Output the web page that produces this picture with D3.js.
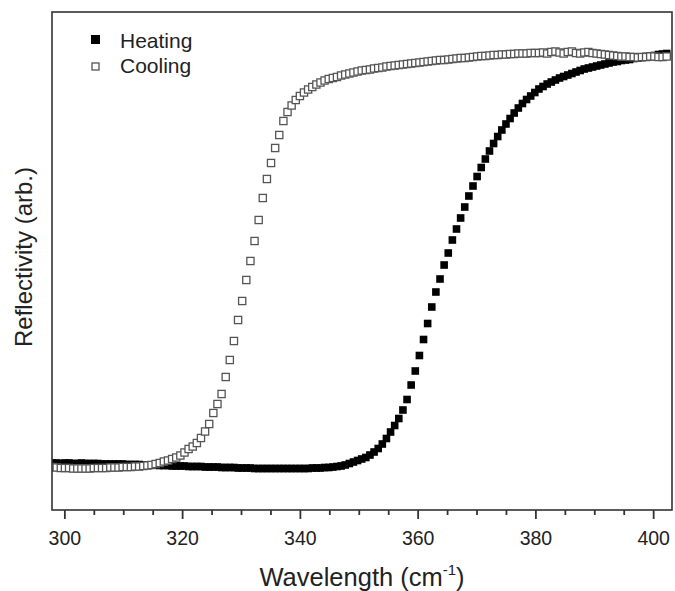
<!DOCTYPE html>
<html>
<head>
<meta charset="utf-8">
<script src="https://cdn.jsdelivr.net/npm/d3@7"></script>
<style>
  html, body { margin: 0; padding: 0; background: #fff; }
  svg { display: block; }
  text { font-family: "Liberation Sans", Arial, sans-serif; fill: #222; }
</style>
</head>
<body>
<svg id="chart" width="675" height="591"></svg>
<script>
// ---- data ----
const wavelength = [
  298.0, 298.7, 299.4, 300.1, 300.8, 301.5, 302.2, 302.9, 303.6, 304.3,
  305.0, 305.7, 306.4, 307.1, 307.8, 308.5, 309.2, 309.9, 310.6, 311.3,
  312.0, 312.7, 313.4, 314.1, 314.8, 315.5, 316.2, 316.9, 317.6, 318.3,
  319.0, 319.7, 320.4, 321.1, 321.8, 322.5, 323.2, 323.9, 324.6, 325.3,
  326.0, 326.7, 327.4, 328.1, 328.8, 329.5, 330.2, 330.9, 331.6, 332.3,
  333.0, 333.7, 334.4, 335.1, 335.8, 336.5, 337.2, 337.9, 338.6, 339.3,
  340.0, 340.7, 341.4, 342.1, 342.8, 343.5, 344.2, 344.9, 345.6, 346.3,
  347.0, 347.7, 348.4, 349.1, 349.8, 350.5, 351.2, 351.9, 352.6, 353.3,
  354.0, 354.7, 355.4, 356.1, 356.8, 357.5, 358.2, 358.9, 359.6, 360.3,
  361.0, 361.7, 362.4, 363.1, 363.8, 364.5, 365.2, 365.9, 366.6, 367.3,
  368.0, 368.7, 369.4, 370.1, 370.8, 371.5, 372.2, 372.9, 373.6, 374.3,
  375.0, 375.7, 376.4, 377.1, 377.8, 378.5, 379.2, 379.9, 380.6, 381.3,
  382.0, 382.7, 383.4, 384.1, 384.8, 385.5, 386.2, 386.9, 387.6, 388.3,
  389.0, 389.7, 390.4, 391.1, 391.8, 392.5, 393.2, 393.9, 394.6, 395.3,
  396.0, 396.7, 397.4, 398.1, 398.8, 399.5, 400.2, 400.9, 401.6, 402.3
];

const heating = [
  11.0, 11.0, 10.9, 11.0, 11.0, 10.9, 10.9, 11.0, 10.9, 10.9,
  10.9, 10.9, 10.8, 10.8, 10.8, 10.8, 10.8, 10.8, 10.7, 10.7,
  10.7, 10.7, 10.6, 10.6, 10.6, 10.6, 10.5, 10.5, 10.5, 10.4,
  10.4, 10.4, 10.4, 10.3, 10.3, 10.3, 10.3, 10.2, 10.2, 10.2,
  10.2, 10.1, 10.1, 10.1, 10.1, 10.0, 10.0, 10.0, 10.0, 9.9,
  9.9, 9.9, 9.9, 9.9, 9.9, 9.9, 9.9, 9.9, 9.9, 9.9,
  9.9, 9.9, 9.9, 10.0, 10.0, 10.0, 10.1, 10.1, 10.2, 10.3,
  10.4, 10.6, 10.9, 11.2, 11.5, 11.8, 12.1, 12.6, 13.2, 13.9,
  14.8, 15.9, 17.2, 18.5, 19.9, 21.6, 23.7, 26.6, 29.4, 32.5,
  35.7, 38.9, 42.2, 45.2, 47.8, 50.6, 53.0, 55.6, 57.8, 60.0,
  62.2, 64.4, 66.4, 68.3, 70.1, 71.8, 73.4, 74.9, 76.3, 77.6,
  78.8, 79.9, 81.0, 82.0, 82.9, 83.7, 84.4, 85.1, 85.8, 86.3,
  86.8, 87.2, 87.6, 88.0, 88.3, 88.6, 88.9, 89.2, 89.5, 89.8,
  90.0, 90.2, 90.4, 90.6, 90.8, 91.0, 91.2, 91.3, 91.5, 91.6,
  91.7, 91.9, 92.0, 92.1, 92.3, 92.4, 92.5, 92.7, 92.8, 92.9
];

const cooling = [
  10.2, 10.1, 10.0, 10.0, 10.0, 9.9, 9.9, 9.9, 9.9, 9.9,
  10.0, 10.0, 10.0, 10.0, 10.1, 10.1, 10.1, 10.2, 10.2, 10.2,
  10.3, 10.3, 10.4, 10.5, 10.6, 10.8, 11.0, 11.3, 11.5, 11.8,
  12.1, 12.5, 13.1, 13.8, 14.3, 15.0, 16.0, 17.3, 18.8, 21.0,
  22.8, 24.8, 28.2, 31.6, 35.4, 39.6, 43.4, 47.6, 51.4, 55.4,
  59.6, 64.0, 67.8, 71.0, 74.0, 76.6, 79.4, 81.2, 82.5, 83.6,
  84.4, 85.1, 85.7, 86.2, 86.7, 87.1, 87.5, 87.8, 88.0, 88.2,
  88.5, 88.7, 88.9, 89.1, 89.3, 89.5, 89.6, 89.7, 89.9, 90.0,
  90.1, 90.3, 90.4, 90.5, 90.6, 90.7, 90.8, 90.9, 91.0, 91.1,
  91.2, 91.3, 91.4, 91.5, 91.6, 91.6, 91.7, 91.8, 91.9, 92.0,
  92.0, 92.1, 92.2, 92.3, 92.4, 92.4, 92.5, 92.6, 92.6, 92.7,
  92.7, 92.8, 92.8, 92.9, 92.9, 92.9, 93.0, 93.0, 93.0, 93.1,
  92.9, 93.2, 93.3, 93.1, 92.9, 93.2, 93.3, 93.0, 92.9, 93.1,
  93.2, 93.0, 92.9, 92.8, 92.7, 92.6, 92.5, 92.4, 92.3, 92.3,
  92.2, 92.2, 92.1, 92.2, 92.2, 92.3, 92.3, 92.2, 92.2, 92.3
];

const majorTicks = [300, 320, 340, 360, 380, 400];
const minorTicks = [305, 310, 315, 325, 330, 335, 345, 350, 355, 365, 370, 375, 385, 390, 395];
const seriesNames = ["Heating", "Cooling"];
const xLabel = "Wavelength (cm";
const xLabelSup = "-1";
const yLabel = "Reflectivity (arb.)";

// ---- layout ----
const margin = { left: 52, top: 12, right: 3, bottom: 81 };
const W = 675, H = 591;
const pw = W - margin.left - margin.right;
const ph = H - margin.top - margin.bottom;

const svg = d3.select("#chart");
const g = svg.append("g").attr("transform", `translate(${margin.left},${margin.top})`);

const x = d3.scaleLinear().domain([297.9, 403.2]).range([0, pw]);
const y = d3.scaleLinear().domain([1.6, 101.2]).range([ph, 0]);

svg.append("defs").append("clipPath").attr("id", "clip")
  .append("rect").attr("x", 0).attr("y", 0).attr("width", pw).attr("height", ph);

const plot = g.append("g").attr("clip-path", "url(#clip)");

const hData = wavelength.map((w, i) => ({ x: w, y: heating[i] }));
const cData = wavelength.map((w, i) => ({ x: w, y: cooling[i] }));

const hs = 7.6;
plot.selectAll("rect.heat").data(hData).join("rect")
  .attr("class", "heat")
  .attr("x", d => x(d.x) - hs / 2)
  .attr("y", d => y(d.y) - hs / 2)
  .attr("width", hs).attr("height", hs)
  .attr("fill", "#000");

const cs = 7.2;
plot.selectAll("rect.cool").data(cData).join("rect")
  .attr("class", "cool")
  .attr("x", d => x(d.x) - cs / 2)
  .attr("y", d => y(d.y) - cs / 2)
  .attr("width", cs).attr("height", cs)
  .attr("fill", "#fff")
  .attr("stroke", "#555")
  .attr("stroke-width", 1.3);

// frame
g.append("rect").attr("x", 0).attr("y", 0).attr("width", pw).attr("height", ph)
  .attr("fill", "none").attr("stroke", "#333").attr("stroke-width", 1.6);

// axes
const xAxis = d3.axisBottom(x).tickValues(majorTicks).tickSize(9).tickPadding(12).tickFormat(d3.format("d"));
const ax = g.append("g").attr("transform", `translate(0,${ph})`).call(xAxis);
ax.select(".domain").remove();
ax.selectAll(".tick line").attr("stroke", "#333").attr("stroke-width", 1.8);
ax.selectAll(".tick text").attr("font-size", 19.5).attr("fill", "#222")
  .style("font-family", '"Liberation Sans", Arial, sans-serif');

const xMinor = d3.axisBottom(x).tickValues(minorTicks).tickSize(5).tickFormat("");
const axm = g.append("g").attr("transform", `translate(0,${ph})`).call(xMinor);
axm.select(".domain").remove();
axm.selectAll(".tick line").attr("stroke", "#333").attr("stroke-width", 1.8);

// axis titles
const xt = svg.append("text")
  .attr("x", 362).attr("y", 586)
  .attr("text-anchor", "middle")
  .attr("font-size", 25.5);
xt.append("tspan").text(xLabel);
xt.append("tspan").attr("font-size", 15).attr("dy", -11).text(xLabelSup);
xt.append("tspan").attr("dy", 11).text(")");

svg.append("text")
  .attr("transform", "translate(32,257) rotate(-90)")
  .attr("text-anchor", "middle")
  .attr("font-size", 24)
  .text(yLabel);

// legend
const leg = svg.append("g");
leg.append("rect").attr("x", 91).attr("y", 35).attr("width", 9).attr("height", 9).attr("fill", "#000");
leg.append("rect").attr("x", 92).attr("y", 63).attr("width", 7).attr("height", 7)
  .attr("fill", "#fff").attr("stroke", "#555").attr("stroke-width", 1.3);
leg.append("text").attr("x", 120).attr("y", 48).attr("font-size", 21).text(seriesNames[0]);
leg.append("text").attr("x", 120).attr("y", 73).attr("font-size", 21).text(seriesNames[1]);
</script>
</body>
</html>
